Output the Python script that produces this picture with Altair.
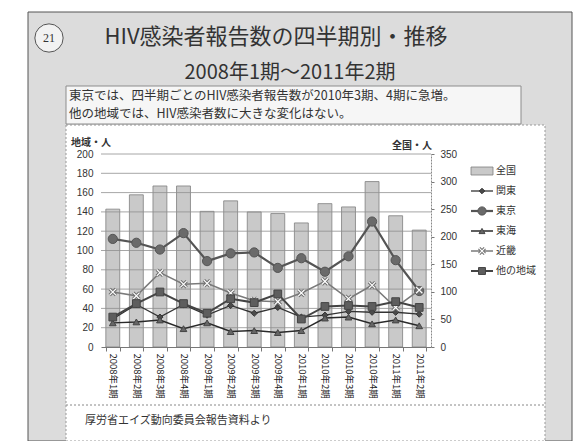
import altair as alt
import pandas as pd

# ---- data -------------------------------------------------------------
periods = [
    "2008年1期", "2008年2期", "2008年3期", "2008年4期",
    "2009年1期", "2009年2期", "2009年3期", "2009年4期",
    "2010年1期", "2010年2期", "2010年3期", "2010年4期",
    "2011年1期", "2011年2期",
]
national = [250, 276, 292, 292, 246, 265, 245, 242, 225, 260, 254, 300, 238, 212]
kanto = [29, 44, 31, 44, 33, 43, 35, 41, 31, 33, 37, 36, 36, 34]
tokyo = [112, 108, 101, 118, 89, 97, 98, 82, 92, 78, 94, 130, 90, 58]
tokai = [25, 26, 28, 19, 25, 16, 17, 15, 17, 30, 31, 24, 28, 22]
kinki = [57, 53, 77, 65, 66, 56, 48, 47, 56, 68, 50, 64, 41, 59]
others = [31, 45, 57, 45, 35, 50, 46, 55, 29, 42, 43, 42, 47, 41]

series_names = ["関東", "東京", "東海", "近畿", "他の地域"]
series_values = [kanto, tokyo, tokai, kinki, others]
legend_names = ["全国"] + series_names

left_ticks = list(range(0, 201, 20))
right_ticks = list(range(0, 351, 50))

nat_df = pd.DataFrame({"period": periods, "value": national})
reg_df = pd.DataFrame(
    [{"period": p, "series": s, "value": v}
     for s, vals in zip(series_names, series_values)
     for p, v in zip(periods, vals)]
)
grid_df = pd.DataFrame({"value": left_ticks[1:]})
one = pd.DataFrame({"k": [0]})

# ---- layout: plot area origin on the page --------------------------------
OX, OY = 101, 154
W, H = 330, 193


def px(x):
    return x - OX


def py(y):
    return y - OY


FONT = "Noto Sans CJK JP"
NUM_FONT = "Liberation Sans"

# per-series line / marker styles
styles = {
    "関東": dict(line="#333333", lw=1.3, shape="diamond", size=38, fill="#4a4a4a", stroke="#333333"),
    "東京": dict(line="#555555", lw=2.2, shape="circle", size=85, fill="#6a6a6a", stroke="#555555"),
    "東海": dict(line="#2a2a2a", lw=1.5, shape="triangle-up", size=45, fill="#666666", stroke="#444444"),
    "近畿": dict(line="#7a7a7a", lw=1.5, shape="M-1,-1L1,1M-1,1L1,-1", size=40, fill="white", stroke="#777777"),
    "他の地域": dict(line="#444444", lw=2.0, shape="square", size=60, fill="#5e5e5e", stroke="#444444"),
}

# ---- shared encodings -----------------------------------------------------
x_enc = alt.X(
    "period:N",
    sort=periods,
    title=None,
    scale=alt.Scale(domain=periods, paddingInner=0.41, paddingOuter=0.205),
    axis=alt.Axis(
        labelAngle=90, labelAlign="left", labelBaseline="middle",
        labelFont=FONT, labelFontSize=9.5, labelColor="#222222", labelPadding=2,
        tickBand="extent", tickSize=4, tickColor="#777777",
        domainColor="#777777", grid=False, zindex=1,
    ),
)

y_left = alt.Y(
    "value:Q",
    title=None,
    scale=alt.Scale(domain=[0, 200], nice=False, zero=True),
    axis=alt.Axis(
        orient="left", values=left_ticks, grid=False, domain=False, ticks=False,
        labelFont=NUM_FONT, labelFontSize=10, labelColor="#333333", labelPadding=8,
        zindex=1,
    ),
)

y_right = alt.Y(
    "value:Q",
    title=None,
    scale=alt.Scale(domain=[0, 350], nice=False, zero=True),
    axis=alt.Axis(
        orient="right", values=right_ticks, grid=False, domain=True, ticks=True,
        tickSize=3, tickColor="#777777", domainColor="#888888", domainDash=[2, 1],
        labelFont=NUM_FONT, labelFontSize=10, labelColor="#333333", labelPadding=6,
        zindex=1,
    ),
)

# ---- page decoration ------------------------------------------------------
def box(x1, x2, y1, y2, **kw):
    return alt.Chart(one).mark_rect(**kw).encode(
        x=alt.value(px(x1)), x2=alt.value(px(x2)),
        y=alt.value(py(y1)), y2=alt.value(py(y2)),
    )


def label(text, x, y, size, align="left", font=FONT, color="#333333", weight="normal"):
    return alt.Chart(one).mark_text(
        text=text, align=align, baseline="middle", fontSize=size, font=font,
        color=color, fontWeight=weight,
    ).encode(x=alt.value(px(x)), y=alt.value(py(y)))


slide_bg = box(28, 572, 12, 441, fill="#dcdcdc", stroke="#555555", strokeWidth=1)
chart_bg = box(66, 545, 125, 441, fill="#ffffff", stroke="#999999", strokeWidth=1, strokeDash=[2, 2])
note_bg = box(66, 521, 86, 124, fill="#f6f6f6", stroke="#8c8c8c", strokeWidth=1)
sep = alt.Chart(one).mark_rule(color="#888888", strokeDash=[2, 2], strokeWidth=1).encode(
    x=alt.value(px(66)), x2=alt.value(px(545)), y=alt.value(py(405))
)

badge = alt.Chart(one).mark_point(
    shape="circle", size=800, fill="#f2f2f2", stroke="#555555", strokeWidth=1, opacity=1
).encode(x=alt.value(px(49)), y=alt.value(py(38)))
badge_txt = label("21", 49, 38, 12, align="center", font="Liberation Serif")

title1 = label("HIV感染者報告数の四半期別・推移", 276, 37, 22, align="center")
title2 = label("2008年1期～2011年2期", 290, 73, 20, align="center")
note1 = label("東京では、四半期ごとのHIV感染者報告数が2010年3期、4期に急増。", 69, 96, 12.5)
note2 = label("他の地域では、HIV感染者数に大きな変化はない。", 69, 114, 12.5)
left_title = label("地域・人", 71, 143, 10, weight="bold")
right_title = label("全国・人", 432, 146, 10, align="right", weight="bold")
source = label("厚労省エイズ動向委員会報告資料より", 85, 421, 11)

# ---- bars (全国, right axis) ---------------------------------------------
bars = alt.Chart(nat_df).mark_bar(
    fill="#c9c9c9", stroke="#7f7f7f", strokeWidth=0.8
).encode(x=x_enc, y=y_right)

# ---- regional lines (left axis) -------------------------------------------
grid = alt.Chart(grid_df).mark_rule(color="#8f8f8f", strokeWidth=0.8).encode(
    y=y_left, x=alt.value(0), x2=alt.value(W)
)

line_layers = []
point_layers = []
for name in series_names:
    st = styles[name]
    base = alt.Chart(reg_df).transform_filter(alt.datum.series == name)
    line_layers.append(
        base.mark_line(color=st["line"], strokeWidth=st["lw"]).encode(x=x_enc, y=y_left)
    )
    if name == "近畿":
        point_layers.append(
            base.mark_point(shape=st["shape"], size=st["size"], stroke="#6f6f6f",
                            strokeWidth=3.2, opacity=1).encode(x=x_enc, y=y_left)
        )
        point_layers.append(
            base.mark_point(shape=st["shape"], size=st["size"], stroke="#ffffff",
                            strokeWidth=1.2, opacity=1).encode(x=x_enc, y=y_left)
        )
    else:
        point_layers.append(
            base.mark_point(shape=st["shape"], size=st["size"], fill=st["fill"],
                            stroke=st["stroke"], strokeWidth=1, filled=True,
                            opacity=1).encode(x=x_enc, y=y_left)
        )

regional = alt.layer(grid, *line_layers, *point_layers)

# ---- legend -------------------------------------------------------------
LEG_X1, LEG_X2, LEG_TX = 471, 493, 496
LEG_Y0, LEG_DY = 171, 20
legend_layers = [
    box(LEG_X1, LEG_X2, LEG_Y0 - 4, LEG_Y0 + 4, fill="#c9c9c9", stroke="#7f7f7f", strokeWidth=0.8)
]
for i, name in enumerate(legend_names):
    yy = LEG_Y0 + LEG_DY * i
    legend_layers.append(label(name, LEG_TX, yy, 10))
    if name == "全国":
        continue
    st = styles[name]
    legend_layers.append(
        alt.Chart(one).mark_rule(color=st["line"], strokeWidth=st["lw"]).encode(
            x=alt.value(px(LEG_X1)), x2=alt.value(px(LEG_X2)), y=alt.value(py(yy))
        )
    )
    mx = (LEG_X1 + LEG_X2) / 2
    if name == "近畿":
        for sw, col in ((3.2, "#6f6f6f"), (1.2, "#ffffff")):
            legend_layers.append(
                alt.Chart(one).mark_point(shape=st["shape"], size=st["size"] * 0.8, stroke=col,
                                          strokeWidth=sw, opacity=1).encode(
                    x=alt.value(px(mx)), y=alt.value(py(yy)))
            )
    else:
        legend_layers.append(
            alt.Chart(one).mark_point(shape=st["shape"], size=st["size"] * 0.8, fill=st["fill"],
                                      stroke=st["stroke"], strokeWidth=1, filled=True,
                                      opacity=1).encode(
                x=alt.value(px(mx)), y=alt.value(py(yy)))
        )

chart = alt.layer(
    slide_bg, note_bg, chart_bg, sep, badge, badge_txt, title1, title2, note1, note2,
    left_title, right_title, source,
    bars, regional, *legend_layers,
).resolve_scale(y="independent").properties(
    width=W, height=H,
    padding={"left": OX, "top": OY, "right": 588 - OX - W, "bottom": 441 - OY - H},
    autosize=alt.AutoSizeParams(type="none"),
    background="#ffffff",
).configure_view(stroke=None)

chart.save("out.html", embed_options={"renderer": "svg", "actions": False})
